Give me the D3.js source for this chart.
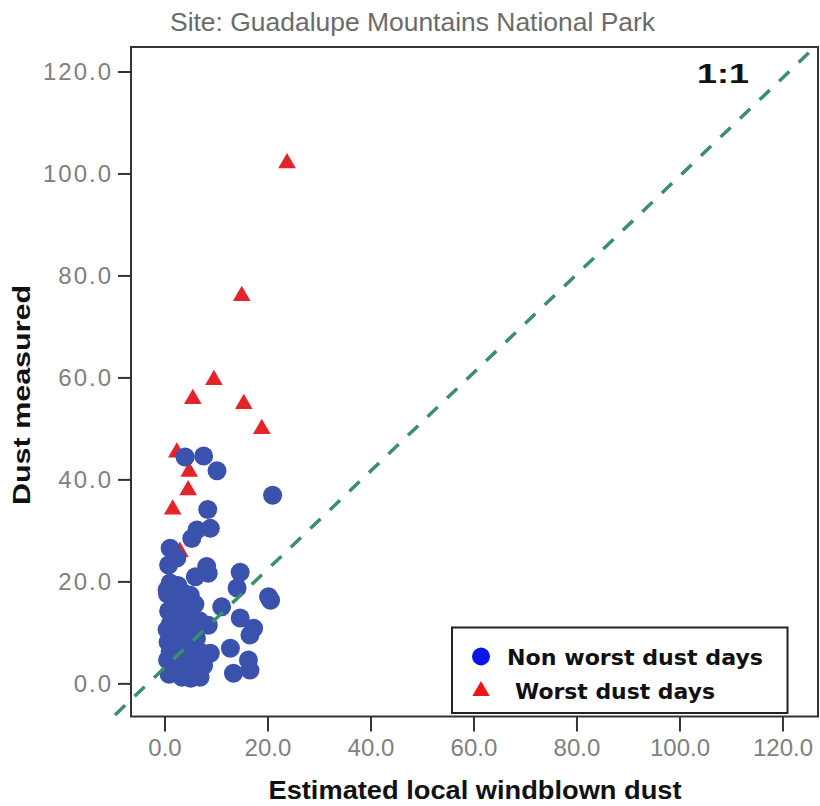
<!DOCTYPE html>
<html>
<head>
<meta charset="utf-8">
<script src="https://cdn.jsdelivr.net/npm/d3@7"></script>
<style>
  html, body { margin: 0; padding: 0; background: #fff; }
  svg { display: block; }
</style>
</head>
<body>
<svg id="chart" width="820" height="806"></svg>
<script>
// Estimated local windblown dust (x) vs. measured dust (y)
const chartTitle = "Site: Guadalupe Mountains National Park";
const xTitle = "Estimated local windblown dust";
const yTitle = "Dust measured";
const ratioLabel = "1:1";
const tickValues = [0, 20, 40, 60, 80, 100, 120];
const legendLabels = ["Non worst dust days", "Worst dust days"];

// Non worst dust days: [estimated, measured]
const nonWorstDays = [
  [4.0, 44.4], [7.6, 44.6], [10.2, 41.7], [21.0, 36.9], [8.4, 34.1],
  [8.9, 30.4], [6.3, 30.1], [5.3, 28.4], [1.1, 26.5], [2.4, 24.6],
  [0.8, 23.2], [8.2, 22.9], [6.0, 20.9], [8.5, 21.6], [14.7, 21.8],
  [14.1, 18.7], [20.2, 17.0], [20.6, 16.3], [11.1, 15.0], [14.7, 12.8], [17.3, 10.8],
  [16.6, 9.5], [8.5, 11.4], [12.8, 6.9], [8.9, 5.9], [16.3, 4.6],
  [13.4, 2.0], [16.6, 2.6], [0.5, 18.3], [1.1, 19.7],
  [0.6, 17.5], [1.8, 16.0], [3.2, 15.8], [4.5, 14.9], [0.8, 14.2],
  [2.4, 13.1], [3.9, 12.6], [5.2, 13.4], [1.2, 11.8], [0.5, 10.5],
  [2.9, 10.8], [4.3, 10.2], [5.6, 11.0], [1.6, 9.4], [3.5, 8.6],
  [0.7, 8.1], [2.2, 7.5], [4.8, 7.9], [6.2, 8.8], [1.1, 6.2],
  [3.0, 5.9], [4.1, 6.6], [5.5, 5.4], [0.6, 4.6], [2.1, 4.2],
  [3.6, 3.8], [4.9, 3.2], [1.3, 2.6], [2.7, 1.9], [4.2, 1.6],
  [6.4, 2.2], [7.6, 3.5], [0.9, 1.8], [3.3, 13.9], [2.0, 18.0],
  [5.9, 15.5], [6.9, 1.2], [5.1, 1.0], [7.2, 6.0], [6.8, 12.3],
  [6.5, 4.8], [5.0, 17.3], [3.9, 17.6], [2.6, 19.2], [4.6, 5.0],
  [2.8, 16.9], [3.4, 1.2]
];

// Worst dust days: [estimated, measured]
const worstDays = [
  [23.8, 102.0], [15.0, 76.0], [9.6, 59.5], [5.5, 55.8], [15.4, 54.8],
  [18.9, 49.9], [2.4, 45.3], [4.8, 41.5], [4.6, 37.9], [1.6, 34.1],
  [3.0, 25.8]
];

// Reference line end points, in data units
const refLine = [[-9.6, -6.2], [126.3, 124.8]];

const svg = d3.select("#chart");
const frame = { left: 131, right: 818, top: 47, bottom: 716.5 };

const x = d3.scaleLinear().domain([-6.5, 126.9]).range([frame.left, frame.right]);
const y = d3.scaleLinear().domain([-6.5, 124.8]).range([frame.bottom, frame.top]);
const fmt = d3.format(".1f");

// Title
svg.append("text")
  .attr("x", 170).attr("y", 31)
  .attr("font-family", "Liberation Sans, Arial, sans-serif")
  .attr("font-size", 26)
  .attr("fill", "#6b6b6b")
  .attr("textLength", 485).attr("lengthAdjust", "spacingAndGlyphs")
  .text(chartTitle);

// Plot frame
svg.append("rect")
  .attr("x", frame.left).attr("y", frame.top)
  .attr("width", frame.right - frame.left).attr("height", frame.bottom - frame.top)
  .attr("fill", "#fff").attr("stroke", "#333").attr("stroke-width", 2);

// Axes
const yAxis = svg.append("g")
  .attr("transform", `translate(${frame.left},0)`)
  .call(d3.axisLeft(y).tickValues(tickValues).tickFormat(fmt).tickSize(13).tickPadding(5));
yAxis.select(".domain").remove();
yAxis.selectAll("line").attr("stroke", "#333").attr("stroke-width", 2);
yAxis.selectAll("text")
  .attr("font-family", "Liberation Sans, Arial, sans-serif")
  .attr("font-size", 24)
  .attr("letter-spacing", 2)
  .attr("fill", "#808080");

const xAxis = svg.append("g")
  .attr("transform", `translate(0,${frame.bottom})`)
  .call(d3.axisBottom(x).tickValues(tickValues).tickFormat(fmt).tickSize(15).tickPadding(7));
xAxis.select(".domain").remove();
xAxis.selectAll("line").attr("stroke", "#333").attr("stroke-width", 2);
xAxis.selectAll("text")
  .attr("font-family", "Liberation Sans, Arial, sans-serif")
  .attr("font-size", 24)
  .attr("fill", "#808080");

// Axis titles
svg.append("text")
  .attr("x", 475).attr("y", 799)
  .attr("text-anchor", "middle")
  .attr("font-family", "Liberation Sans, Arial, sans-serif")
  .attr("font-weight", "bold")
  .attr("font-size", 25)
  .attr("fill", "#111")
  .attr("textLength", 413).attr("lengthAdjust", "spacingAndGlyphs")
  .text(xTitle);

svg.append("text")
  .attr("transform", "translate(30,395) rotate(-90)")
  .attr("text-anchor", "middle")
  .attr("font-family", "Liberation Sans, Arial, sans-serif")
  .attr("font-weight", "bold")
  .attr("font-size", 24)
  .attr("fill", "#111")
  .attr("textLength", 220).attr("lengthAdjust", "spacingAndGlyphs")
  .text(yTitle);

// Points: triangles under circles
const tri = d3.symbol().type(d3.symbolTriangle).size(135);
svg.append("g").selectAll("path")
  .data(worstDays)
  .join("path")
  .attr("d", tri)
  .attr("transform", d => `translate(${x(d[0])},${y(d[1])})`)
  .attr("fill", "#e3242b");

svg.append("g").selectAll("circle")
  .data(nonWorstDays)
  .join("circle")
  .attr("cx", d => x(d[0]))
  .attr("cy", d => y(d[1]))
  .attr("r", 9.5)
  .attr("fill", "#3b52ad");

// 1:1 reference line
svg.append("path")
  .attr("d", d3.line().x(d => x(d[0])).y(d => y(d[1]))(refLine))
  .attr("fill", "none")
  .attr("stroke", "#3a8f6c")
  .attr("stroke-width", 3.5)
  .attr("stroke-dasharray", "14 13");

svg.append("text")
  .attr("x", 697).attr("y", 83)
  .attr("font-family", "Liberation Sans, Arial, sans-serif")
  .attr("font-weight", "bold")
  .attr("font-size", 27)
  .attr("fill", "#111")
  .attr("textLength", 52).attr("lengthAdjust", "spacingAndGlyphs")
  .text(ratioLabel);

// Legend
const legend = svg.append("g");
legend.append("rect")
  .attr("x", 452).attr("y", 627.5)
  .attr("width", 335.5).attr("height", 85.5)
  .attr("fill", "#fff").attr("stroke", "#222").attr("stroke-width", 2);
legend.append("circle")
  .attr("cx", 481).attr("cy", 656.5).attr("r", 9)
  .attr("fill", "#0a16e6");
legend.append("path")
  .attr("d", d3.symbol().type(d3.symbolTriangle).size(130)())
  .attr("transform", "translate(481,691)")
  .attr("fill", "#f01414");
legend.selectAll("text.lbl")
  .data(legendLabels)
  .join("text")
  .attr("class", "lbl")
  .attr("x", (d, i) => i === 0 ? 507 : 515)
  .attr("y", (d, i) => i === 0 ? 665 : 699)
  .attr("font-family", "DejaVu Sans, Verdana, sans-serif")
  .attr("font-weight", "bold")
  .attr("font-size", 21)
  .attr("fill", "#111")
  .attr("textLength", (d, i) => i === 0 ? 256 : 200)
  .attr("lengthAdjust", "spacingAndGlyphs")
  .text(d => d);
</script>
</body>
</html>
